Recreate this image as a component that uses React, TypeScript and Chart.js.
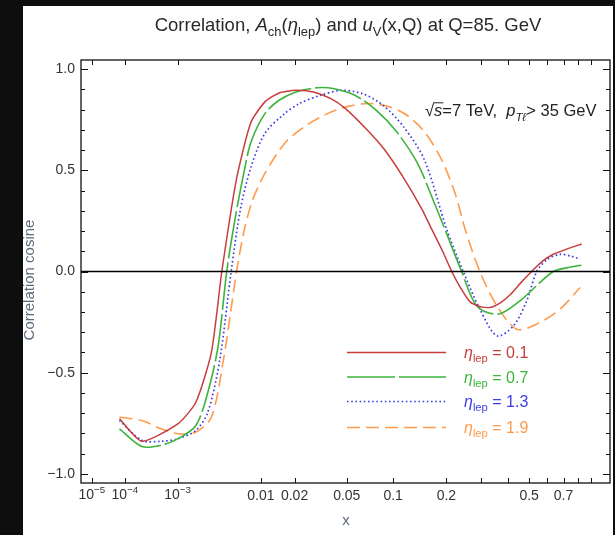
import React, { useEffect, useRef } from 'react';
import { Chart, registerables, LinearScale } from 'chart.js';

Chart.register(...registerables);

// ---------- data ----------
const x01 = [7.3e-5, 2.37e-4, 1.02e-3, 1.83e-3, 2.9e-3, 3.86e-3, 5.0e-3, 5.9e-3, 8.0e-3, 0.0109, 0.0147, 0.0206, 0.0284, 0.0385, 0.049, 0.0656, 0.0874, 0.1143, 0.1479, 0.1667, 0.19, 0.2134, 0.235, 0.2643, 0.295, 0.331, 0.37, 0.411, 0.46, 0.5125, 0.57, 0.635, 0.73, 0.829];
const y01 = [-0.728, -0.839, -0.752, -0.646, -0.40, 0.0, 0.321, 0.50, 0.739, 0.838, 0.882, 0.895, 0.887, 0.854, 0.805, 0.715, 0.608, 0.469, 0.305, 0.209, 0.105, 0.0, -0.075, -0.15, -0.173, -0.178, -0.155, -0.115, -0.055, 0.0, 0.05, 0.085, 0.113, 0.136];

const x07 = [7.3e-5, 2.37e-4, 5.4e-4, 1.02e-3, 1.83e-3, 2.62e-3, 3.5e-3, 4.4e-3, 5.5e-3, 6.83e-3, 8.0e-3, 0.0109, 0.0147, 0.0206, 0.0303, 0.0408, 0.0572, 0.0784, 0.1051, 0.1391, 0.1739, 0.1964, 0.2398, 0.2857, 0.3627, 0.4556, 0.5582, 0.635, 0.72, 0.829];
const y07 = [-0.777, -0.865, -0.859, -0.826, -0.761, -0.597, -0.367, 0.0, 0.272, 0.50, 0.641, 0.78, 0.846, 0.887, 0.908, 0.903, 0.870, 0.797, 0.69, 0.534, 0.33, 0.209, 0.0, -0.17, -0.211, -0.145, -0.054, 0.0, 0.018, 0.031];

const x13 = [7.3e-5, 2.37e-4, 5.4e-4, 1.02e-3, 1.83e-3, 2.62e-3, 3.67e-3, 4.93e-3, 6.2e-3, 8.0e-3, 0.0109, 0.0158, 0.022, 0.032, 0.0457, 0.0637, 0.0868, 0.1155, 0.1521, 0.2007, 0.2445, 0.2958, 0.357, 0.4253, 0.488, 0.5398, 0.6, 0.677, 0.75, 0.817];
const y13 = [-0.736, -0.834, -0.839, -0.826, -0.785, -0.695, -0.433, 0.0, 0.305, 0.518, 0.682, 0.772, 0.83, 0.870, 0.895, 0.879, 0.821, 0.715, 0.551, 0.209, 0.0, -0.186, -0.318, -0.269, -0.145, 0.0, 0.06, 0.085, 0.076, 0.061];

const x19 = [7.3e-5, 2.37e-4, 5.4e-4, 1.02e-3, 1.83e-3, 2.9e-3, 4.05e-3, 4.86e-3, 5.65e-3, 6.83e-3, 8.3e-3, 0.0109, 0.0169, 0.0251, 0.0363, 0.0512, 0.0706, 0.0954, 0.1209, 0.1521, 0.189, 0.2231, 0.2499, 0.2958, 0.357, 0.4401, 0.5398, 0.677, 0.817];
const y19 = [-0.72, -0.736, -0.777, -0.802, -0.793, -0.72, -0.433, -0.203, 0.0, 0.207, 0.354, 0.485, 0.641, 0.723, 0.780, 0.816, 0.83, 0.813, 0.772, 0.69, 0.551, 0.38, 0.209, 0.0, -0.17, -0.285, -0.26, -0.186, -0.079];

const seriesEta = ['0.1', '0.7', '1.3', '1.9'];
const seriesColors = ['#c83c3c', '#3cb43c', '#3c3ce6', '#ff9b4b'];
const seriesDash: number[][] = [[], [48, 4], [1.6, 2.6], [13, 6]];

const xMajorTicks = [1e-5, 1e-4, 1e-3, 0.01, 0.02, 0.05, 0.1, 0.2, 0.5, 0.7];
const xMajorLabels = ['', '', '', '0.01', '0.02', '0.05', '0.1', '0.2', '0.5', '0.7'];
const xPowerLabels = [['10', '\u22125'], ['10', '\u22124'], ['10', '\u22123']];
const xMinorTicks = [0.3, 0.4, 0.6, 0.8, 0.9];
const yMajorTicks = [-1, -0.5, 0, 0.5, 1];
const yMinorTicks = [-0.9, -0.8, -0.7, -0.6, -0.4, -0.3, -0.2, -0.1, 0.1, 0.2, 0.3, 0.4, 0.6, 0.7, 0.8, 0.9];

const xMin = 3.5e-6;
const xMax = 1.067;
const yMin = -1.045;
const yMax = 1.045;

// ---------- power-law x scale (x^0.2) ----------
const P = 0.2;
class PowScale extends LinearScale {
  static id = 'pow';
  static defaults = (LinearScale as any).defaults;
  getPixelForValue(value: number) {
    const a = Math.pow(this.min, P), b = Math.pow(this.max, P);
    return this.getPixelForDecimal((Math.pow(value, P) - a) / (b - a));
  }
  getValueForPixel(pixel: number) {
    const a = Math.pow(this.min, P), b = Math.pow(this.max, P);
    const d = this.getDecimalForPixel(pixel);
    return Math.pow(a + d * (b - a), 1 / P);
  }
}
Chart.register(PowScale as any);

const FONT = '"Liberation Sans", Arial, sans-serif';

type Seg = { t: string; it?: boolean; sub?: boolean; sup?: boolean };

function segSize(s: Seg, size: number) {
  return s.sub || s.sup ? size * 0.7 : size;
}

function richWidth(ctx: CanvasRenderingContext2D, segs: Seg[], size: number) {
  let w = 0;
  for (const s of segs) {
    ctx.font = `${s.it ? 'italic ' : ''}${segSize(s, size)}px ${FONT}`;
    w += ctx.measureText(s.t).width;
  }
  return w;
}

function drawRich(ctx: CanvasRenderingContext2D, segs: Seg[], x: number, y: number, size: number, color: string, align: 'left' | 'center') {
  let cx = align === 'center' ? x - richWidth(ctx, segs, size) / 2 : x;
  ctx.fillStyle = color;
  ctx.textBaseline = 'alphabetic';
  ctx.textAlign = 'left';
  for (const s of segs) {
    ctx.font = `${s.it ? 'italic ' : ''}${segSize(s, size)}px ${FONT}`;
    const dy = s.sub ? size * 0.28 : s.sup ? -size * 0.42 : 0;
    ctx.fillText(s.t, cx, y + dy);
    cx += ctx.measureText(s.t).width;
  }
  return cx;
}

const decorPlugin = {
  id: 'decor',
  beforeDraw(chart: any) {
    const ctx = chart.ctx as CanvasRenderingContext2D;
    ctx.save();
    ctx.fillStyle = '#0e0e0e';
    ctx.fillRect(0, 0, chart.width, chart.height);
    ctx.fillStyle = '#ffffff';
    ctx.fillRect(23, 6, 590, chart.height - 6);
    ctx.restore();
  },
  afterDraw(chart: any) {
    const ctx = chart.ctx as CanvasRenderingContext2D;
    const { left, right, top, bottom } = chart.chartArea;
    const xs = chart.scales.x;
    const ys = chart.scales.y;
    ctx.save();
    // zero line
    ctx.strokeStyle = '#000';
    ctx.lineWidth = 1.5;
    const y0 = ys.getPixelForValue(0);
    ctx.beginPath();
    ctx.moveTo(left, y0);
    ctx.lineTo(right, y0);
    ctx.stroke();
    // frame
    ctx.lineWidth = 1.3;
    ctx.strokeStyle = '#111';
    ctx.strokeRect(left, top, right - left, bottom - top);
    // ticks (inward)
    ctx.lineWidth = 1;
    ctx.beginPath();
    for (const v of [...xMajorTicks, ...xMinorTicks]) {
      const px = Math.round(xs.getPixelForValue(v)) + 0.5;
      ctx.moveTo(px, bottom);
      ctx.lineTo(px, bottom - 5);
      ctx.moveTo(px, top);
      ctx.lineTo(px, top + 5);
    }
    for (const v of yMajorTicks) {
      const py = Math.round(ys.getPixelForValue(v)) + 0.5;
      ctx.moveTo(left, py);
      ctx.lineTo(left + 7, py);
      ctx.moveTo(right, py);
      ctx.lineTo(right - 7, py);
    }
    for (const v of yMinorTicks) {
      const py = Math.round(ys.getPixelForValue(v)) + 0.5;
      ctx.moveTo(left, py);
      ctx.lineTo(left + 4, py);
      ctx.moveTo(right, py);
      ctx.lineTo(right - 4, py);
    }
    ctx.stroke();

    // power-of-ten tick labels
    xPowerLabels.forEach((pl, i) => {
      const px = xs.getPixelForValue(xMajorTicks[i]);
      drawRich(ctx, [{ t: pl[0] }, { t: pl[1], sup: true }], px, 499, 14, '#333', 'center');
    });

    // legend
    const legY = [352.5, 377, 401.5, 427.5];
    chart.data.datasets.forEach((ds: any, i: number) => {
      ctx.save();
      ctx.strokeStyle = ds.borderColor;
      ctx.lineWidth = ds.borderWidth;
      ctx.setLineDash(ds.borderDash || []);
      ctx.beginPath();
      ctx.moveTo(347, legY[i]);
      ctx.lineTo(446, legY[i]);
      ctx.stroke();
      ctx.restore();
      drawRich(ctx, [{ t: '\u03B7', it: true }, { t: 'lep', sub: true }, { t: ' = ' + seriesEta[i] }], 464, legY[i] + 5.5, 16, ds.borderColor, 'left');
    });

    // annotation
    {
      const ax = 425, ay = 116, fs = 16.5;
      ctx.font = `${fs}px ${FONT}`;
      ctx.fillStyle = '#222';
      ctx.textAlign = 'left';
      ctx.textBaseline = 'alphabetic';
      ctx.fillText('\u221A', ax, ay);
      const rw = ctx.measureText('\u221A').width;
      ctx.font = `italic ${fs}px ${FONT}`;
      const sw = ctx.measureText('s').width;
      ctx.strokeStyle = '#222';
      ctx.lineWidth = 1;
      ctx.beginPath();
      ctx.moveTo(ax + rw - 1, ay - fs * 0.8);
      ctx.lineTo(ax + rw + sw + 1, ay - fs * 0.8);
      ctx.stroke();
      drawRich(ctx, [{ t: 's', it: true }, { t: '=7 TeV,  ' }, { t: 'p', it: true }, { t: 'T\u2113', it: true, sub: true }, { t: '> 35 GeV' }], ax + rw, ay, fs, '#222', 'left');
    }

    // title
    drawRich(ctx, [
      { t: 'Correlation, ' }, { t: 'A', it: true }, { t: 'ch', sub: true }, { t: '(' }, { t: '\u03B7', it: true }, { t: 'lep', sub: true },
      { t: ') and ' }, { t: 'u', it: true }, { t: 'V', sub: true }, { t: '(x,Q) at Q=85. GeV' },
    ], 348, 31, 18.5, '#2a2a2a', 'center');

    // axis titles
    ctx.fillStyle = '#5d6b80';
    ctx.font = `15px ${FONT}`;
    ctx.textAlign = 'center';
    ctx.textBaseline = 'middle';
    ctx.fillText('x', 346, 521);
    ctx.translate(30, 280);
    ctx.rotate(-Math.PI / 2);
    ctx.fillText('Correlation cosine', 0, 0);
    ctx.restore();
  },
};

export default function App() {
  const ref = useRef<HTMLCanvasElement | null>(null);
  useEffect(() => {
    if (!ref.current) return;
    const mk = (xs: number[], ys: number[]) => xs.map((x, i) => ({ x, y: ys[i] }));
    const chart = new Chart(ref.current, {
      type: 'line',
      data: {
        datasets: [
          { label: '\u03B7lep = 0.1', data: mk(x01, y01), borderColor: seriesColors[0], borderWidth: 1.5, borderDash: seriesDash[0], pointRadius: 0, tension: 0.2, fill: false },
          { label: '\u03B7lep = 0.7', data: mk(x07, y07), borderColor: seriesColors[1], borderWidth: 1.6, borderDash: seriesDash[1], pointRadius: 0, tension: 0.3, fill: false },
          { label: '\u03B7lep = 1.3', data: mk(x13, y13), borderColor: seriesColors[2], borderWidth: 1.7, borderDash: seriesDash[2], pointRadius: 0, tension: 0.3, fill: false },
          { label: '\u03B7lep = 1.9', data: mk(x19, y19), borderColor: seriesColors[3], borderWidth: 1.6, borderDash: seriesDash[3], pointRadius: 0, tension: 0.3, fill: false },
        ],
      },
      options: {
        animation: false,
        responsive: false,
        maintainAspectRatio: false,
        layout: { padding: { left: 0, right: 5, top: 60, bottom: 0 } },
        plugins: { legend: { display: false }, title: { display: false }, tooltip: { enabled: false } },
        scales: {
          x: {
            type: 'pow' as any,
            min: xMin,
            max: xMax,
            grid: { display: false, drawTicks: false },
            border: { display: false },
            afterBuildTicks: (s: any) => { s.ticks = xMajorTicks.map((v) => ({ value: v })); },
            afterFit: (s: any) => { s.height = 52; },
            ticks: {
              autoSkip: false,
              maxRotation: 0,
              padding: 5,
              color: '#333',
              font: { family: FONT, size: 14 },
              callback: (v: any) => {
                const i = xMajorTicks.findIndex((t) => Math.abs(t - v) / t < 1e-6);
                return i >= 0 ? xMajorLabels[i] : '';
              },
            },
          },
          y: {
            type: 'linear',
            min: yMin,
            max: yMax,
            grid: { display: false, drawTicks: false },
            border: { display: false },
            afterBuildTicks: (s: any) => { s.ticks = yMajorTicks.map((v) => ({ value: v })); },
            afterFit: (s: any) => { s.width = 81; },
            ticks: {
              padding: 6,
              color: '#333',
              font: { family: FONT, size: 14 },
              callback: (v: any) => (Number(v) < 0 ? '\u2212' : '') + Math.abs(Number(v)).toFixed(1),
            },
          },
        },
      } as any,
      plugins: [decorPlugin],
    });
    return () => chart.destroy();
  }, []);
  return (
    <div style={{ position: 'fixed', left: 0, top: 0, width: 615, height: 535, background: '#0e0e0e' }}>
      <canvas ref={ref} width={615} height={535} style={{ display: 'block', width: 615, height: 535 }} />
    </div>
  );
}
